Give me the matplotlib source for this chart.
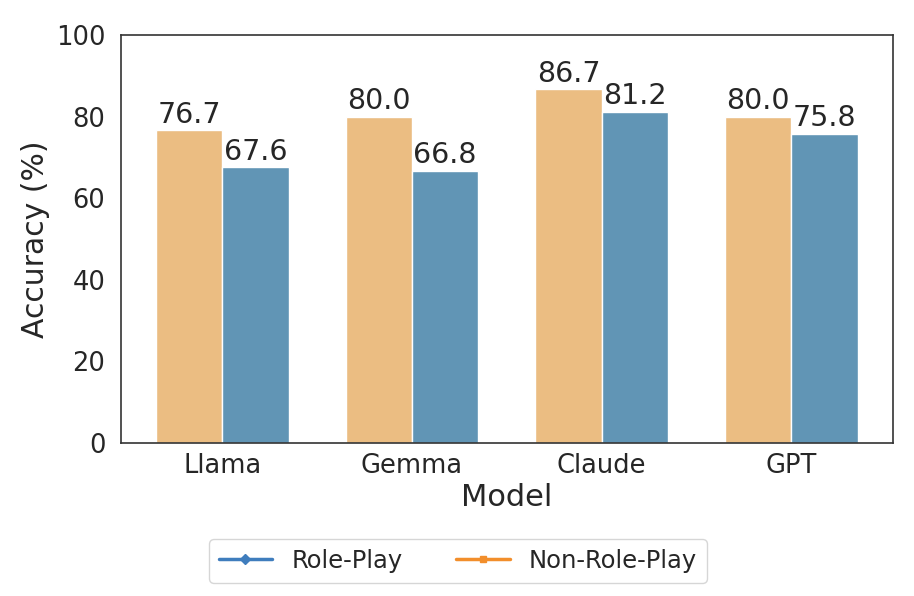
import matplotlib
matplotlib.use("Agg")
import matplotlib.pyplot as plt
import seaborn as sns
import numpy as np
from matplotlib.lines import Line2D

models = ["Llama", "Gemma", "Claude", "GPT"]
role_play = [76.7, 80.0, 86.7, 80.0]
non_role_play = [67.6, 66.8, 81.2, 75.8]

sns.set_style("white")
plt.rcParams['font.family'] = ['DejaVu Sans']

fig, ax = plt.subplots(figsize=(9.14, 5.96), dpi=100)
x = np.arange(len(models))
w = 0.35

b1 = ax.bar(x - w / 2, role_play, w, color="#EBBD82", edgecolor="white", linewidth=1)
b2 = ax.bar(x + w / 2, non_role_play, w, color="#6195B5", edgecolor="white", linewidth=1)
for bars in (b1, b2):
    ax.bar_label(bars, fmt="%.1f", fontsize=20.5, color="#262626", padding=1)

ax.set_ylim(0, 100)
ax.set_xticks(x)
ax.set_xticklabels(models)
ax.tick_params(labelsize=18.5, colors="#262626", pad=4)
ax.tick_params(axis="y", pad=7.5)
ax.set_xlabel("Model", fontsize=22, color="#262626", labelpad=3)
ax.set_ylabel("Accuracy (%)", fontsize=21.5, color="#262626", labelpad=4.5)
for s in ax.spines.values():
    s.set_color("#333333")
    s.set_linewidth(1.2)

handles = [
    Line2D([0], [0], color="#3f7dbd", marker="D", markersize=5, lw=2.5),
    Line2D([0], [0], color="#f28e2b", marker="s", markersize=5, lw=2.5),
]
fig.legend(handles, ["Role-Play", "Non-Role-Play"], loc="lower center",
           ncol=2, fontsize=17.5, bbox_to_anchor=(0.501, 0.002), frameon=True,
           columnspacing=2.2, handlelength=2.2)

fig.subplots_adjust(left=0.132, right=0.977, top=0.941, bottom=0.257)
fig.savefig("out.png", dpi=100)
